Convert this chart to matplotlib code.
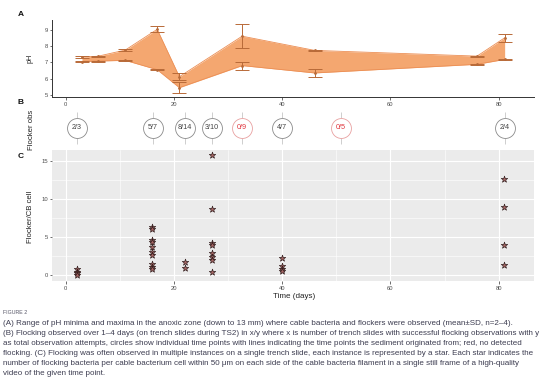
import numpy as np
import matplotlib
matplotlib.use("Agg")
import matplotlib.pyplot as plt

plt.rcParams['font.family'] = ['Liberation Sans', 'DejaVu Sans']

# Panel A: pH maxima / minima (mean and SD) per time point
ph_days = [3.0, 5.9, 11.0, 16.9, 21.0, 32.6, 46.0, 76.0, 81.1]
ph_max = [7.33, 7.37, 7.75, 9.02, 6.12, 8.60, 7.73, 7.38, 8.50]
ph_max_sd = [0.05, 0.04, 0.06, 0.18, 0.20, 0.72, 0.03, 0.03, 0.26]
ph_min = [7.05, 7.08, 7.12, 6.55, 5.45, 6.80, 6.35, 6.88, 7.18]
ph_min_sd = [0.05, 0.03, 0.05, 0.03, 0.32, 0.25, 0.22, 0.03, 0.03]

# Panel B: flocking observations x/y
obs_days = [2.1, 16.1, 22.0, 27.0, 32.6, 40.0, 50.8, 81.2]
obs_labels = ['2/3', '5/7', '8/14', '3/10', '0/9', '4/7', '0/5', '2/4']

# Panel C: flockers per cable bacterium cell
star_days = [2] * 4 + [16] * 10 + [22] * 2 + [27] * 8 + [40] * 4 + [81] * 4
star_vals = [0.8, 0.45, 0.2, 0.05,
             6.35, 6.05, 4.6, 4.4, 3.7, 3.0, 2.65, 1.4, 1.1, 0.8,
             1.65, 0.9,
             15.8, 8.7, 4.2, 3.95, 2.85, 2.4, 2.0, 0.45,
             2.2, 1.2, 0.8, 0.5,
             12.6, 9.0, 4.0, 1.25]

W, H = 554, 384
fig = plt.figure(figsize=(W / 100, H / 100), dpi=100)


def px_axes(x0, y0, x1, y1):
    return fig.add_axes([x0 / W, 1 - y1 / H, (x1 - x0) / W, (y1 - y0) / H])


XLIM = (-2.48, 86.43)
tick_col = '#4d4d4d'
orange = '#f4a770'
bar_col = '#b86a38'

# ---- A
axA = px_axes(52.3, 20, 533.5, 97.3)
axA.fill_between(ph_days, ph_min, ph_max, color=orange, lw=0)
axA.plot(ph_days, ph_max, color='#ec8f55', lw=0.6)
axA.plot(ph_days, ph_min, color='#ec8f55', lw=0.6)
axA.errorbar(ph_days, ph_max, yerr=ph_max_sd, fmt='o', ms=1.0, color=bar_col,
             elinewidth=0.7, capsize=4.8, capthick=0.7)
axA.errorbar(ph_days, ph_min, yerr=ph_min_sd, fmt='o', ms=1.0, color=bar_col,
             elinewidth=0.7, capsize=4.8, capthick=0.7)
axA.set_xlim(XLIM)
axA.set_ylim(4.86, 9.59)
axA.set_xticks([0, 20, 40, 60, 80])
axA.set_yticks([5, 6, 7, 8, 9])
for s in ['top', 'right']:
    axA.spines[s].set_visible(False)
for s in ['left', 'bottom']:
    axA.spines[s].set_linewidth(0.7)
    axA.spines[s].set_color('#333333')
axA.tick_params(labelsize=4.2, length=1.8, width=0.5, colors='#333333', pad=1.5)
for lab in axA.get_xticklabels() + axA.get_yticklabels():
    lab.set_color(tick_col)

# ---- B
axB = px_axes(52.3, 100, 533.5, 150)
axB.set_xlim(XLIM)
axB.set_ylim(150, 100)
axB.axis('off')
for d, lab in zip(obs_days, obs_labels):
    red = lab.startswith('0/')
    tc = '#e0353d' if red else '#444444'
    ec = '#e8a0a0' if red else '#8a8a8a'
    axB.vlines(d, 111.5, 118, color='#bbbbbb', lw=0.5)
    axB.vlines(d, 137, 144, color='#bbbbbb', lw=0.5)
    axB.scatter([d], [127.7], s=205, facecolor='white', edgecolor=ec,
                linewidth=0.6, zorder=3)
    axB.text(d, 127.9, lab, ha='center', va='center', fontsize=5.2,
             color=tc, zorder=4)

# ---- C
axC = px_axes(52.3, 150, 533.5, 281)
axC.set_facecolor('#ebebeb')
axC.scatter(star_days, star_vals, marker='*', s=24, facecolor='#a86866',
            edgecolor='#2a1616', linewidth=0.45, zorder=3)
axC.set_xlim(XLIM)
axC.set_ylim(-0.79, 16.45)
axC.set_xticks([0, 20, 40, 60, 80])
axC.set_yticks([0, 5, 10, 15])
axC.set_xticks([10, 30, 50, 70], minor=True)
axC.set_yticks([2.5, 7.5, 12.5], minor=True)
axC.grid(which='major', color='white', lw=0.8)
axC.grid(which='minor', color='white', lw=0.4)
axC.set_axisbelow(True)
for s in axC.spines.values():
    s.set_visible(False)
axC.tick_params(which='major', labelsize=4.2, length=1.8, width=0.5,
                colors='#333333', pad=1.5)
axC.tick_params(which='minor', length=0)
for lab in axC.get_xticklabels() + axC.get_yticklabels():
    lab.set_color(tick_col)

# labels
fig.text(30 / W, 1 - 58 / H, 'pH', rotation=90, ha='center', va='center',
         fontsize=5.2, color='#222222')
fig.text(31.5 / W, 1 - 130 / H, 'Flocker obs', rotation=90, ha='center',
         va='center', fontsize=5.6, color='#222222')
fig.text(30 / W, 1 - 217 / H, 'Flocker/CB cell', rotation=90, ha='center',
         va='center', fontsize=5.6, color='#222222')
fig.text(294 / W, 1 - 297 / H, 'Time (days)', ha='center', va='center',
         fontsize=5.8, color='#222222')
for lab, y in [('A', 15), ('B', 103), ('C', 156)]:
    fig.text(21 / W, 1 - y / H, lab, ha='center', va='center', fontsize=6,
             fontweight='bold', color='#111111')

# caption
cap_col = '#3c3c50'
fig.text(3 / W, 1 - 313 / H, 'FIGURE 2', ha='left', va='center',
         fontsize=3.8, color='#555566')
caption = [
    "(A) Range of pH minima and maxima in the anoxic zone (down to 13 mm) where cable bacteria and flockers were observed (mean\u00b1SD, n=2\u20134).",
    "(B) Flocking observed over 1\u20134 days (on trench slides during TS2) in x/y where x is number of trench slides with successful flocking observations with y",
    "as total observation attempts, circles show individual time points with lines indicating the time points the sediment originated from; red, no detected",
    "flocking. (C) Flocking was often observed in multiple instances on a single trench slide, each instance is represented by a star. Each star indicates the",
    "number of flocking bacteria per cable bacterium cell within 50 \u03bcm on each side of the cable bacteria filament in a single still frame of a high-quality",
    "video of the given time point.",
]
for i, line in enumerate(caption):
    fig.text(3 / W, 1 - (323.8 + i * 10.0) / H, line, ha='left', va='center',
             fontsize=5.8, color=cap_col)

fig.savefig('out.png', dpi=100)
